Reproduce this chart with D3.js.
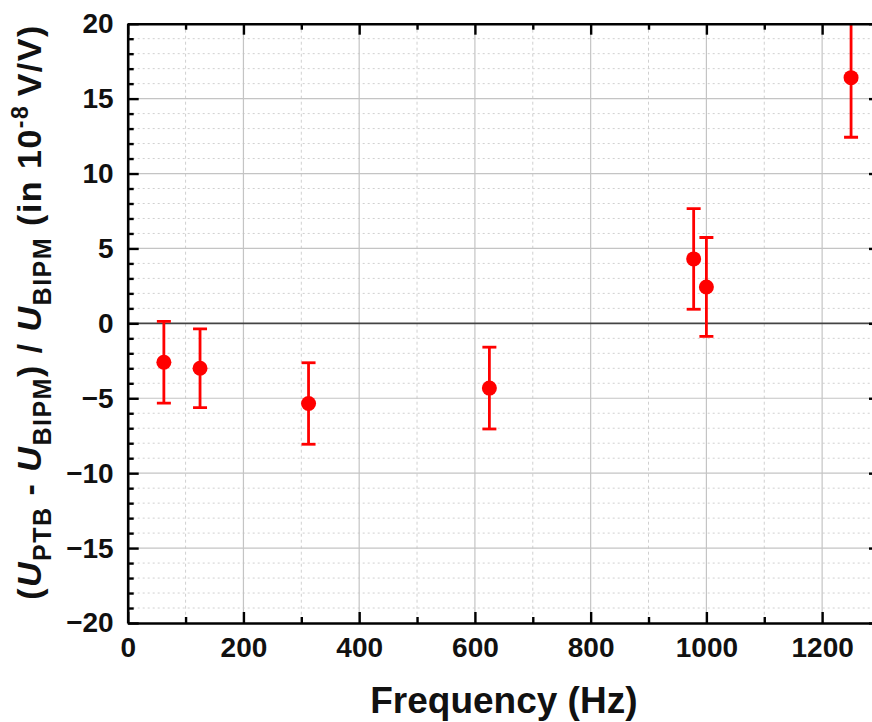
<!DOCTYPE html>
<meta charset="utf-8">
<head>
  <title>PTB - BIPM</title>
  <script src="https://d3js.org/d3.v7.min.js"></script>
  <style>
    body {
      margin: 0;
      background-color: white;
      font-family: "Liberation Sans", Arial, sans-serif;
    }
    .axis path { stroke: black; stroke-width: 2.6px; }
    .axis line { stroke: black; stroke-width: 2.4px; }
    .axis text {
      font-family: "Liberation Sans", Arial, sans-serif;
      font-size: 28px;
      font-weight: bold;
      fill: #111;
    }
    .minor path { display: none; }
    .grid-major { stroke: #c4c4c4; stroke-width: 1.2px; }
    .grid-minor { stroke: #d0d0d0; stroke-width: 1px; stroke-dasharray: 2,3; }
    .grid-vminor { stroke: #d0d0d0; stroke-width: 1px; stroke-dasharray: 3,3; }
    .zero { stroke: #444; stroke-width: 1.6px; }
    .err { stroke: #ff0000; stroke-width: 2.8px; }
    .dot { fill: #ff0000; }
    .label {
      font-family: "Liberation Sans", Arial, sans-serif;
      font-weight: bold;
      fill: #111;
    }
  </style>
</head>
<body>
<script>
  // values
  var freqs = [62.5, 125, 312.5, 625, 978, 1000, 1250];
  var diffs = [-2.6, -3.0, -5.35, -4.32, 4.3, 2.43, 16.4];
  var uncert = [2.73, 2.63, 2.72, 2.73, 3.36, 3.3, 3.98];

  var xTicks = [0, 200, 400, 600, 800, 1000, 1200];
  var xMinor = d3.range(100, 1300, 200);
  var yTicks = [-20, -15, -10, -5, 0, 5, 10, 15, 20];
  var yMinor = d3.range(-20, 21, 1).filter(function(v) { return v % 5 != 0; });

  var margin = {top: 23.7, right: -8, bottom: 99, left: 127.7};
  var width = 872 - margin.left - margin.right;
  var height = 722 - margin.top - margin.bottom;

  var svg = d3.select("body").append("svg")
    .attr("width", 872)
    .attr("height", 722)
    .append("g")
    .attr("transform", "translate(" + margin.left + "," + margin.top + ")");

  var x = d3.scaleLinear().domain([0, 1300]).range([0, width]);
  var y = d3.scaleLinear().domain([-20, 20]).range([height, 0]);

  // grid
  svg.selectAll(".gm").data(yMinor).enter().append("line")
    .attr("class", "grid-minor")
    .attr("x1", 0).attr("x2", width)
    .attr("y1", function(d) { return y(d); }).attr("y2", function(d) { return y(d); });
  svg.selectAll(".gvm").data(xMinor).enter().append("line")
    .attr("class", "grid-vminor")
    .attr("y1", 0).attr("y2", height)
    .attr("x1", function(d) { return x(d); }).attr("x2", function(d) { return x(d); });
  svg.selectAll(".gy").data(yTicks.filter(function(d) { return d != 0 && Math.abs(d) != 20; })).enter().append("line")
    .attr("class", "grid-major")
    .attr("x1", 0).attr("x2", width)
    .attr("y1", function(d) { return y(d); }).attr("y2", function(d) { return y(d); });
  svg.selectAll(".gx").data(xTicks.filter(function(d) { return d > 0; })).enter().append("line")
    .attr("class", "grid-major")
    .attr("y1", 0).attr("y2", height)
    .attr("x1", function(d) { return x(d); }).attr("x2", function(d) { return x(d); });
  svg.append("line")
    .attr("class", "zero")
    .attr("x1", 0).attr("x2", width)
    .attr("y1", y(0)).attr("y2", y(0));

  // data, clipped to the plot frame
  svg.append("clipPath").attr("id", "clip")
    .append("rect").attr("width", width).attr("height", height);
  var pts = svg.append("g").attr("clip-path", "url(#clip)");
  var rows = freqs.map(function(f, i) { return {f: f, v: diffs[i], e: uncert[i]}; });

  pts.selectAll(".err").data(rows).enter().append("line")
    .attr("class", "err")
    .attr("x1", function(d) { return x(d.f); }).attr("x2", function(d) { return x(d.f); })
    .attr("y1", function(d) { return y(d.v + d.e); }).attr("y2", function(d) { return y(d.v - d.e); });
  [1, -1].forEach(function(s) {
    pts.selectAll(".cap" + s).data(rows).enter().append("line")
      .attr("class", "err")
      .attr("x1", function(d) { return x(d.f) - 7; }).attr("x2", function(d) { return x(d.f) + 7; })
      .attr("y1", function(d) { return y(d.v + s * d.e); }).attr("y2", function(d) { return y(d.v + s * d.e); });
  });
  pts.selectAll(".dot").data(rows).enter().append("circle")
    .attr("class", "dot")
    .attr("r", 7.5)
    .attr("cx", function(d) { return x(d.f); })
    .attr("cy", function(d) { return y(d.v); });

  // axes, ticks pointing inwards
  svg.append("g").attr("class", "axis minor")
    .attr("transform", "translate(0," + height + ")")
    .call(d3.axisBottom(x).tickValues(xMinor).tickSize(-6).tickFormat(""));
  svg.append("g").attr("class", "axis minor")
    .call(d3.axisTop(x).tickValues(xMinor).tickSize(-6).tickFormat(""));
  svg.append("g").attr("class", "axis minor")
    .call(d3.axisLeft(y).tickValues(yMinor).tickSize(-6).tickFormat(""));
  svg.append("g").attr("class", "axis minor")
    .attr("transform", "translate(" + width + ",0)")
    .call(d3.axisRight(y).tickValues(yMinor).tickSize(-6).tickFormat(""));

  svg.append("g").attr("class", "axis")
    .attr("transform", "translate(0," + height + ")")
    .call(d3.axisBottom(x).tickValues(xTicks).tickSizeInner(-11).tickSizeOuter(0)
      .tickPadding(14).tickFormat(d3.format("d")));
  svg.append("g").attr("class", "axis")
    .call(d3.axisTop(x).tickValues(xTicks).tickSizeInner(-11).tickSizeOuter(0).tickFormat(""));
  svg.append("g").attr("class", "axis")
    .call(d3.axisLeft(y).tickValues(yTicks).tickSizeInner(-11).tickSizeOuter(0).tickPadding(14));
  svg.append("g").attr("class", "axis")
    .attr("transform", "translate(" + width + ",0)")
    .call(d3.axisRight(y).tickValues(yTicks).tickSizeInner(-11).tickSizeOuter(0).tickFormat(""));

  // axis titles
  svg.append("text")
    .attr("class", "label")
    .attr("x", width / 2)
    .attr("y", 713 - margin.top)
    .attr("text-anchor", "middle")
    .style("font-size", "37px")
    .text("Frequency (Hz)");

  var yl = svg.append("text")
    .attr("class", "label")
    .attr("transform", "translate(" + (41 - margin.left) + "," + (312 - margin.top) + ") rotate(-90)")
    .attr("text-anchor", "middle")
    .style("font-size", "34px")
    .style("letter-spacing", "1.5px");
  var parts = [
    ["(", 0, false, 34], ["U", 0, true, 34], ["PTB", 10, false, 25], [" - ", -10, false, 34],
    ["U", 0, true, 34], ["BIPM", 10, false, 25], [") / ", -10, false, 34],
    ["U", 0, true, 34], ["BIPM", 10, false, 25], [" (in 10", -10, false, 34],
    ["-8", -13, false, 23], ["\u2009V/V)", 13, false, 34]
  ];
  parts.forEach(function(p) {
    yl.append("tspan")
      .attr("dy", p[1])
      .style("font-style", p[2] ? "italic" : "normal")
      .style("font-size", p[3] + "px")
      .text(p[0]);
  });
</script>
</body>
</html>
